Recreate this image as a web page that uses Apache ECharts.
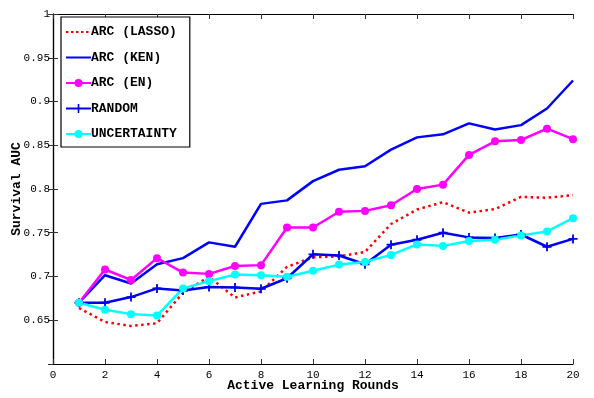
<!DOCTYPE html>
<html>
<head>
<meta charset="utf-8">
<script src="https://cdn.jsdelivr.net/npm/echarts@6/dist/echarts.min.js"></script>
<style>
  html, body { margin: 0; padding: 0; background: #fff; }
  #chart { width: 594px; height: 398px; }
</style>
</head>
<body>
<div id="chart"></div>
<script>
// active learning rounds
let rounds = [1, 2, 3, 4, 5, 6, 7, 8, 9, 10, 11, 12, 13, 14, 15, 16, 17, 18, 19, 20]
let arcLasso = [0.664, 0.648, 0.6435, 0.6466, 0.6815, 0.6997, 0.676, 0.683, 0.711, 0.722,
  0.723, 0.728, 0.760, 0.7765, 0.785, 0.773, 0.777, 0.791, 0.790, 0.793]
let arcKen = [0.670, 0.7015, 0.692, 0.714, 0.721, 0.739, 0.734, 0.783, 0.787, 0.809,
  0.822, 0.826, 0.845, 0.859, 0.8625, 0.875, 0.868, 0.873, 0.892, 0.924]
let arcEn = [0.670, 0.708, 0.696, 0.721, 0.7045, 0.703, 0.712, 0.713, 0.756, 0.756,
  0.774, 0.775, 0.7815, 0.800, 0.805, 0.839, 0.8545, 0.856, 0.869, 0.857]
let random = [0.670, 0.670, 0.6765, 0.6864, 0.684, 0.688, 0.6875, 0.686, 0.698, 0.7254,
  0.724, 0.714, 0.7364, 0.742, 0.750, 0.7447, 0.744, 0.748, 0.734, 0.743]
let uncertainty = [0.670, 0.662, 0.657, 0.6553, 0.6864, 0.6947, 0.7023, 0.7015, 0.6997, 0.7065,
  0.7136, 0.7167, 0.7247, 0.7367, 0.735, 0.7406, 0.742, 0.747, 0.7515, 0.7667]

let mono = '"Liberation Mono", "DejaVu Sans Mono", monospace'
let plusPath = 'path://M4,0H6V4H10V6H6V10H4V6H0V4H4Z'

// legend icons, drawn in a 25x9 box
let iconLine = 'path://M0,0H0.01V9H0Z M0,3.5H25V5.5H0Z M24.99,0H25V9H24.99Z'
let iconDots = 'path://M0,0H0.01V9H0Z M0,3.5H2.5V5.5H0Z M5,3.5H7.5V5.5H5Z M10,3.5H12.5V5.5H10Z M15,3.5H17.5V5.5H15Z M20,3.5H22.5V5.5H20Z M24.99,0H25V9H24.99Z'
let iconCircle = 'path://M0,0H0.01V9H0Z M0,3.5H25V5.5H0Z M24.99,0H25V9H24.99Z M16.5,4.5A4,4 0 1,1 8.5,4.5A4,4 0 1,1 16.5,4.5Z'
let iconPlus = 'path://M0,0H0.01V9H0Z M0,3.5H25V5.5H0Z M24.99,0H25V9H24.99Z M11.7,0H13.3V9H11.7Z M8,3.5H17V5.5H8Z'

function pairs (ys) {
  return rounds.map((x, i) => [x, ys[i]])
}

function makeSeries (name, ys, color, opt) {
  return Object.assign({
    name: name,
    type: 'line',
    data: pairs(ys),
    symbol: 'none',
    animation: false,
    lineStyle: { color: color, width: 2.5 },
    itemStyle: { color: color },
    emphasis: { disabled: true }
  }, opt || {})
}

let frameAxis = {
  axisLine: { show: true, lineStyle: { color: '#000', width: 1.2 } },
  axisTick: { show: true, inside: true, length: 5, lineStyle: { color: '#333' } },
  splitLine: { show: false }
}

let option = {
  backgroundColor: '#fff',
  animation: false,
  grid: { left: 53, right: 21, top: 14, bottom: 34, outerBoundsMode: 'none', containLabel: false },
  xAxis: [
    Object.assign({
      type: 'value', min: 0, max: 20, interval: 2,
      name: 'Active Learning Rounds',
      nameLocation: 'middle',
      nameGap: 15,
      nameMoveOverlap: false,
      nameTextStyle: { fontFamily: mono, fontWeight: 'bold', fontSize: 13, color: '#000' },
      axisLabel: { fontFamily: mono, fontSize: 11, color: '#000', margin: 6 }
    }, frameAxis),
    Object.assign({
      type: 'value', min: 0, max: 20, interval: 2, position: 'top',
      axisLabel: { show: false }
    }, frameAxis)
  ],
  yAxis: [
    Object.assign({
      type: 'value', min: 0.6, max: 1, interval: 0.05,
      name: 'Survival AUC',
      nameLocation: 'middle',
      nameGap: 30,
      nameMoveOverlap: false,
      nameTextStyle: { fontFamily: mono, fontWeight: 'bold', fontSize: 13, color: '#000' },
      axisLabel: {
        fontFamily: mono, fontSize: 11, color: '#000', margin: 3,
        showMinLabel: false,
        formatter: v => (Math.abs(v - 0.6) < 1e-9 ? '' : String(+v.toFixed(2)))
      }
    }, frameAxis),
    Object.assign({
      type: 'value', min: 0.6, max: 1, interval: 0.05, position: 'right',
      axisLabel: { show: false }
    }, frameAxis)
  ],
  legend: {
    orient: 'vertical',
    left: 61,
    top: 17,
    padding: [8, 13, 6, 5],
    itemGap: 11.5,
    itemWidth: 25,
    itemHeight: 9,
    borderColor: '#000',
    borderWidth: 1.2,
    borderRadius: 0,
    backgroundColor: '#fff',
    textStyle: { fontFamily: mono, fontWeight: 'bold', fontSize: 13, lineHeight: 14, color: '#000', padding: [0, 0, 0, -5] },
    data: [
      { name: 'ARC (LASSO)', icon: iconDots },
      { name: 'ARC (KEN)', icon: iconLine },
      { name: 'ARC (EN)', icon: iconCircle },
      { name: 'RANDOM', icon: iconPlus },
      { name: 'UNCERTAINTY', icon: iconCircle }
    ]
  },
  series: [
    makeSeries('ARC (LASSO)', arcLasso, '#ff0000', {
      lineStyle: { color: '#ff0000', width: 2.5, type: [2.5, 3.5] }
    }),
    makeSeries('ARC (KEN)', arcKen, '#0000ff'),
    makeSeries('ARC (EN)', arcEn, '#ff00ff', { symbol: 'circle', symbolSize: 8 }),
    makeSeries('RANDOM', random, '#0000ee', { symbol: plusPath, symbolSize: 9 }),
    makeSeries('UNCERTAINTY', uncertainty, '#00ffff', { symbol: 'circle', symbolSize: 8 })
  ]
}

let myChart = echarts.init(document.getElementById('chart'), null, { renderer: 'canvas' })
myChart.setOption(option)
</script>
</body>
</html>
